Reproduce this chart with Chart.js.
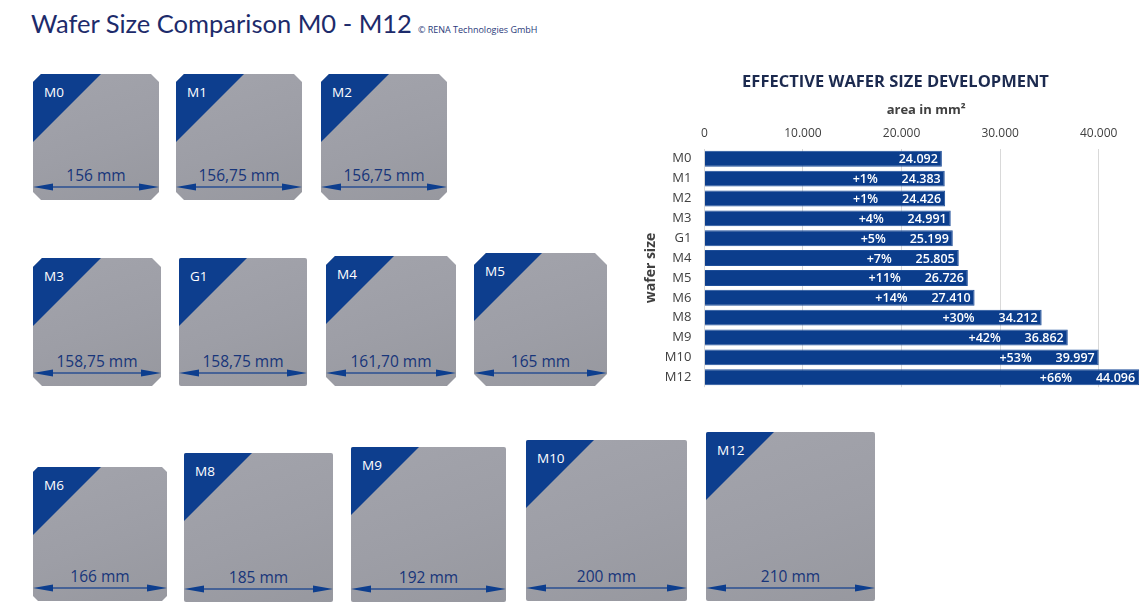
<!DOCTYPE html>
<html>
<head>
<meta charset="utf-8">
<title>Wafer Size Comparison M0 - M12</title>
<script src="https://cdn.jsdelivr.net/npm/chart.js@4.4.1/dist/chart.umd.min.js"></script>
<style>
  html, body { margin: 0; padding: 0; background: #fff; overflow: hidden; }
  body { width: 1140px; height: 615px; position: relative; font-family: "Open Sans", sans-serif; }
  #title { position: absolute; left: 31px; top: 8px; font-family: Lato, sans-serif; font-size: 25.5px; color: #1d2b6b; white-space: nowrap; }
  #title small { font-family: "Open Sans", sans-serif; font-size: 9px; color: #2a3a7a; margin-left: 6px; }
  .wafer { position: absolute; background: linear-gradient(160deg, #a3a4ac 0%, #9d9ea6 55%, #97989f 100%); overflow: hidden; }
  .wafer .tri { position: absolute; left: 0; top: 0; width: 68px; height: 68px; background: #0d3e8e; clip-path: polygon(0 0, 100% 0, 0 100%); }
  .wafer .name { position: absolute; left: 11px; top: 9px; color: #fff; font-size: 13.5px; }
  .wafer .dim { position: absolute; left: 0; right: 0; bottom: 14px; text-align: center; color: #17357a; font-size: 15.5px; }
  .wafer svg { position: absolute; left: 0; bottom: 8px; }
  #chartBox { position: absolute; left: 636px; top: 70px; width: 512px; height: 330px; }
</style>
</head>
<body>
<div id="title">Wafer Size Comparison M0 - M12<small>© RENA Technologies GmbH</small></div>
<div id="wafers"></div>
<div id="chartBox"><canvas id="areaChart"></canvas></div>
<script>
// wafer formats and their edge length
const waferNames = ['M0', 'M1', 'M2', 'M3', 'G1', 'M4', 'M5', 'M6', 'M8', 'M9', 'M10', 'M12'];
const waferEdgeMm = [156, 156.75, 156.75, 158.75, 158.75, 161.70, 165, 166, 185, 192, 200, 210];
const waferEdgeLabels = ['156 mm', '156,75 mm', '156,75 mm', '158,75 mm', '158,75 mm', '161,70 mm',
                         '165 mm', '166 mm', '185 mm', '192 mm', '200 mm', '210 mm'];

// effective area in mm² and growth labels shown in the bars
const areaMm2 = [24092, 24383, 24426, 24991, 25199, 25805, 26726, 27410, 34212, 36862, 39997, 44096];
const growthLabels = ['', '+1%', '+1%', '+4%', '+5%', '+7%', '+11%', '+14%', '+30%', '+42%', '+53%', '+66%'];
const areaTicks = [0, 10000, 20000, 30000, 40000];

// layout of the wafer drawings (left edge, bottom edge, corner cut)
const PX_PER_MM = 0.806;
const waferLayout = [
    { x: 33, bottom: 200, cut: 8 }, { x: 176, bottom: 200, cut: 8 }, { x: 321, bottom: 200, cut: 8 },
    { x: 33, bottom: 386, cut: 9 }, { x: 179, bottom: 386, cut: 0 }, { x: 326, bottom: 386, cut: 9 },
    { x: 474, bottom: 386, cut: 12 }, { x: 33, bottom: 601, cut: 5 }, { x: 184, bottom: 602, cut: 0 },
    { x: 351, bottom: 602, cut: 0 }, { x: 526, bottom: 601, cut: 0 }, { x: 706, bottom: 601, cut: 0 }
];

function fmtDE(n) {
    return n.toLocaleString('de-DE');
}

function buildWafers() {
    const holder = document.getElementById('wafers');
    waferNames.forEach((name, i) => {
        const lay = waferLayout[i];
        const s = Math.round(waferEdgeMm[i] * PX_PER_MM);
        const c = lay.cut;
        const el = document.createElement('div');
        el.className = 'wafer';
        el.style.left = lay.x + 'px';
        el.style.top = (lay.bottom - s) + 'px';
        el.style.width = s + 'px';
        el.style.height = s + 'px';
        if (c > 0) {
            el.style.clipPath = `polygon(${c}px 0, ${s - c}px 0, ${s}px ${c}px, ${s}px ${s - c}px, ${s - c}px ${s}px, ${c}px ${s}px, 0 ${s - c}px, 0 ${c}px)`;
        } else {
            el.style.borderRadius = '2px';
        }
        // arrow along the bottom edge
        const arrow = `<svg width="${s}" height="10" viewBox="0 0 ${s} 10">
            <line x1="10" y1="5" x2="${s - 10}" y2="5" stroke="#2a4f92" stroke-width="1.6"/>
            <polygon points="0,5 20,1.5 20,8.5" fill="#0d3e8e"/>
            <polygon points="${s},5 ${s - 20},1.5 ${s - 20},8.5" fill="#0d3e8e"/>
        </svg>`;
        el.innerHTML = `<div class="tri"></div><div class="name">${name}</div>
            <div class="dim">${waferEdgeLabels[i]}</div>${arrow}`;
        holder.appendChild(el);
    });
}

// draws the value and growth text inside every bar
const barTextPlugin = {
    id: 'barText',
    afterDatasetsDraw(chart) {
        const ctx = chart.ctx;
        const meta = chart.getDatasetMeta(0);
        ctx.save();
        ctx.fillStyle = '#ffffff';
        ctx.font = '600 12.5px "Open Sans", sans-serif';
        ctx.textAlign = 'right';
        ctx.textBaseline = 'middle';
        meta.data.forEach((bar, i) => {
            ctx.fillText(fmtDE(areaMm2[i]), bar.x - 4, bar.y + 1);
            if (growthLabels[i]) ctx.fillText(growthLabels[i], bar.x - 67, bar.y + 1);
        });
        ctx.restore();
    }
};

function initChart() {
    const ctx = document.getElementById('areaChart').getContext('2d');
    new Chart(ctx, {
        type: 'bar',
        data: {
            labels: waferNames,
            datasets: [{
                label: 'area in mm²',
                data: areaMm2,
                backgroundColor: '#0b3d8c',
                borderColor: '#1f4f9a',
                borderWidth: 1,
                barPercentage: 0.8,
                categoryPercentage: 1.0
            }]
        },
        options: {
            indexAxis: 'y',
            responsive: true,
            maintainAspectRatio: false,
            animation: false,
            layout: { padding: { left: 7, right: 0, top: 0, bottom: 0 } },
            plugins: {
                legend: { display: false },
                tooltip: { enabled: false },
                title: {
                    display: true,
                    text: 'EFFECTIVE WAFER SIZE DEVELOPMENT',
                    color: '#1c2a4f',
                    font: { family: '"Open Sans", sans-serif', size: 16.5, weight: 'bold' },
                    padding: { top: 2, bottom: 11 }
                }
            },
            scales: {
                x: {
                    position: 'top',
                    min: 0,
                    max: 45000,
                    afterBuildTicks(axis) {
                        axis.ticks = areaTicks.map(v => ({ value: v }));
                    },
                    ticks: {
                        color: '#404040',
                        font: { family: '"Open Sans", sans-serif', size: 12 },
                        padding: 8,
                        maxRotation: 0,
                        callback: v => fmtDE(v)
                    },
                    grid: { color: '#d9d9d9', drawTicks: false },
                    border: { display: false },
                    title: {
                        display: true,
                        text: 'area in mm²',
                        color: '#404040',
                        font: { family: '"Open Sans", sans-serif', size: 13, weight: 'bold' },
                        padding: { top: 0, bottom: 0 }
                    }
                },
                y: {
                    ticks: {
                        color: '#404040',
                        font: { family: '"Open Sans", sans-serif', size: 13 },
                        padding: 5
                    },
                    grid: { display: false },
                    border: { display: false },
                    title: {
                        display: true,
                        text: 'wafer size',
                        color: '#404040',
                        font: { family: '"Open Sans", sans-serif', size: 14, weight: 'bold' },
                        padding: { top: 0, bottom: 0 }
                    }
                }
            }
        },
        plugins: [barTextPlugin]
    });
}

buildWafers();
initChart();
</script>
</body>
</html>
